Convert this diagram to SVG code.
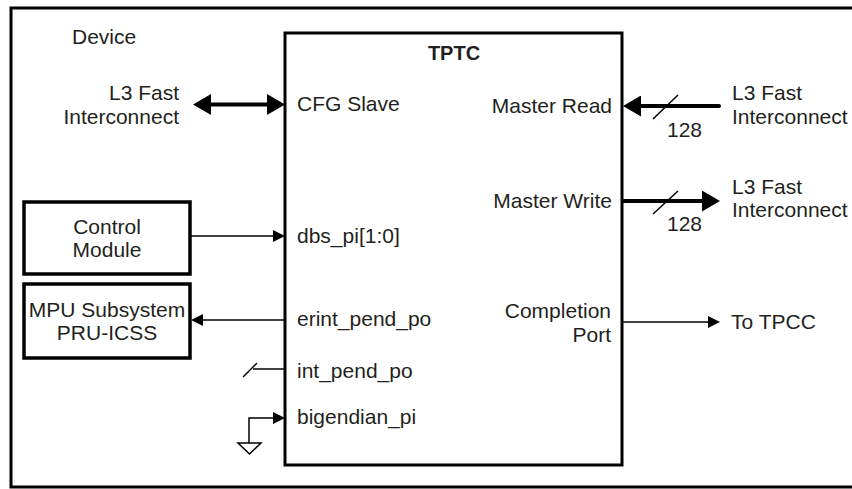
<svg xmlns="http://www.w3.org/2000/svg" width="852" height="489" viewBox="0 0 852 489">
<style>
text{font-family:"Liberation Sans",Arial,sans-serif;font-size:21px;fill:#231f20}
.b{font-weight:bold;font-size:20px}
.e{text-anchor:end}
.m{text-anchor:middle}
.box{fill:none;stroke:#000;stroke-width:3}
.thick{stroke:#000;stroke-width:4;fill:none}
.thin{stroke:#000;stroke-width:1.5;fill:none}
</style>
<defs>
<marker id="ah" markerUnits="userSpaceOnUse" viewBox="0 0 18 21" refX="0" refY="10.5" markerWidth="18" markerHeight="21" orient="auto-start-reverse">
<path d="M0,0 L18,10.5 L0,21 z" fill="#000"/>
</marker>
<marker id="as" markerUnits="userSpaceOnUse" viewBox="0 0 12 12" refX="0" refY="6" markerWidth="12" markerHeight="12" orient="auto-start-reverse">
<path d="M0,0 L12,6 L0,12 z" fill="#000"/>
</marker>
</defs>
<rect width="852" height="489" fill="#fff"/>
<g id="device">
<rect class="box" x="11" y="8" width="850" height="479"/>
<text x="72" y="44">Device</text>
</g>
<g id="tptc">
<rect class="box" x="285" y="33" width="337" height="432"/>
<text class="b m" x="454" y="60">TPTC</text>
<text x="297" y="111">CFG Slave</text>
<text x="297" y="243">dbs_pi[1:0]</text>
<text x="297" y="326">erint_pend_po</text>
<text x="297" y="378">int_pend_po</text>
<text x="297" y="424">bigendian_pi</text>
<text class="e" x="612" y="113">Master Read</text>
<text class="e" x="612" y="208">Master Write</text>
<text class="e" x="611" y="318">Completion</text>
<text class="e" x="611" y="342">Port</text>
</g>
<g id="l3-left">
<text class="e" x="179" y="100">L3 Fast</text>
<text class="e" x="179" y="124">Interconnect</text>
</g>
<g id="l3-read">
<text x="732" y="100">L3 Fast</text>
<text x="732" y="124">Interconnect</text>
</g>
<g id="l3-write">
<text x="732" y="194">L3 Fast</text>
<text x="732" y="217">Interconnect</text>
</g>
<g id="control">
<rect class="box" x="24" y="202" width="166" height="72" style="stroke-width:3.5"/>
<text class="m" x="107" y="234">Control</text>
<text class="m" x="107" y="257">Module</text>
</g>
<g id="mpu">
<rect class="box" x="24" y="284" width="166" height="74" style="stroke-width:3.5"/>
<text class="m" x="107" y="317">MPU Subsystem</text>
<text class="m" x="107" y="340">PRU-ICSS</text>
</g>
<g id="tpcc">
<text x="731" y="329">To TPCC</text>
</g>
<g id="connectors">
<line class="thick" x1="211" y1="104.5" x2="267" y2="104.5" marker-start="url(#ah)" marker-end="url(#ah)"/>
<line class="thick" x1="719" y1="106" x2="641" y2="106" stroke-linecap="round" marker-end="url(#ah)"/>
<line class="thin" x1="653" y1="119" x2="678" y2="95"/>
<text x="667" y="137">128</text>
<line class="thick" x1="622" y1="201" x2="702" y2="201" marker-end="url(#ah)"/>
<line class="thin" x1="653" y1="214" x2="678" y2="191"/>
<text x="667" y="231">128</text>
<line class="thin" x1="190" y1="236" x2="273" y2="236" marker-end="url(#as)"/>
<line class="thin" x1="285" y1="320" x2="203" y2="320" marker-end="url(#as)"/>
<line class="thin" x1="622" y1="322" x2="708" y2="322" marker-end="url(#as)"/>
<line class="thin" x1="253" y1="369" x2="285" y2="369"/>
<line class="thin" x1="243" y1="377" x2="257" y2="363"/>
<path class="thin" d="M249,443 V418 H273" marker-end="url(#as)"/>
<polygon class="thin" points="238,443 261,443 249.5,454" fill="#fff"/>
</g>
</svg>
